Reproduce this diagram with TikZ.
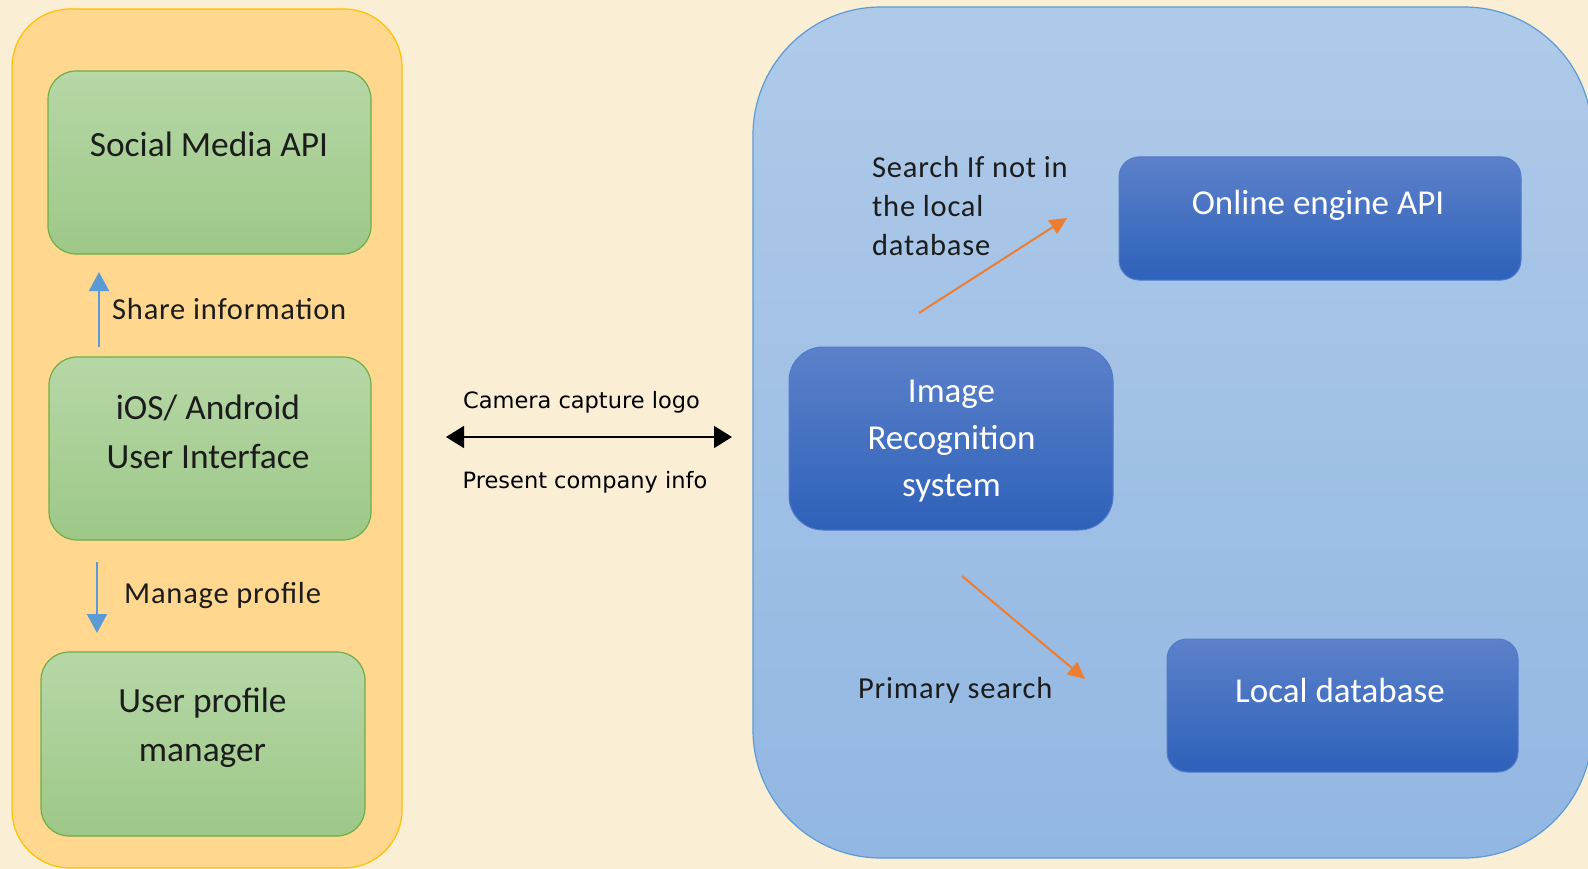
\documentclass[tikz,border=0pt]{standalone}
\usepackage{fontspec}
\setmainfont{Carlito}
\newfontfamily\labelfont[LetterSpace=2.6]{Carlito}
\newfontfamily\tahomalike{DejaVu Sans}
\usetikzlibrary{arrows.meta}

\definecolor{bgcream}{RGB}{250,238,212}
\definecolor{orangefill}{RGB}{255,215,142}
\definecolor{orangeline}{RGB}{255,192,0}
\definecolor{greentop}{RGB}{182,215,167}
\definecolor{greenbot}{RGB}{157,200,135}
\definecolor{greenline}{RGB}{112,173,71}
\definecolor{bluecontop}{RGB}{175,202,233}
\definecolor{blueconbot}{RGB}{146,183,226}
\definecolor{blueconline}{RGB}{91,155,213}
\definecolor{boxtop}{RGB}{92,129,202}
\definecolor{boxbot}{RGB}{46,97,185}
\definecolor{boxline}{RGB}{80,122,205}
\definecolor{arrowblue}{RGB}{91,155,213}
\definecolor{arroworange}{RGB}{237,125,49}
\definecolor{inkdark}{RGB}{28,28,28}

\tikzset{
  container/.style={draw, line width=1.2pt, inner sep=0pt},
  greenbox/.style={draw=greenline, line width=1.2pt, top color=greentop, bottom color=greenbot,
    rounded corners=28pt, inner sep=0pt},
  bluebox/.style={draw=boxline, line width=1pt, top color=boxtop, bottom color=boxbot, inner sep=0pt},
  boxtext/.style={font=\fontsize{35.4}{49}\selectfont, text=inkdark, inner sep=0pt},
  whitetext/.style={font=\fontsize{35}{47}\selectfont, text=white, inner sep=0pt},
  labeltext/.style={font=\labelfont\fontsize{30.5}{39}\selectfont, text=inkdark, inner sep=0pt},
  midlabel/.style={font=\tahomalike\fontsize{22.5}{27}\selectfont, text=black, inner sep=0pt},
  bluearrow/.style={draw=arrowblue, line width=2pt, -{Triangle[length=19pt,width=20pt]}},
  orangearrow/.style={draw=arroworange, line width=2pt, -{Triangle[length=17pt,width=16pt]}},
  blackarrow/.style={draw=black, line width=1.7pt, {Triangle[length=18pt,width=22pt]}-{Triangle[length=18pt,width=22pt]}}
}

\begin{document}
\begin{tikzpicture}[x=1pt,y=-1pt]
\useasboundingbox (0,0) rectangle (1588,869);
\clip (0,0) rectangle (1588,869);
\fill[bgcream] (0,0) rectangle (1588,869);

% containers
\node[container, draw=orangeline, fill=orangefill, rounded corners=58pt,
      minimum width=390pt, minimum height=859pt] (left) at (207,438.5) {};
\node[container, draw=blueconline, top color=bluecontop, bottom color=blueconbot, rounded corners=128pt,
      minimum width=839pt, minimum height=851pt] (right) at (1172.5,432.5) {};

% green boxes
\node[greenbox, minimum width=323pt, minimum height=183pt] (sm) at (209.5,162.5) {};
\node[greenbox, minimum width=322pt, minimum height=183pt] (ios) at (210,448.5) {};
\node[greenbox, minimum width=324pt, minimum height=184pt] (upm) at (203,744) {};

\node[boxtext, anchor=base] (smt) at (209,157) {Social Media API};
\node[boxtext, align=center, anchor=north] (iost) at (208,395) {iOS/ Android\\User Interface};
\node[boxtext, align=center, anchor=north] (upmt) at (202.5,688) {User profile\\manager};

% blue boxes
\node[bluebox, rounded corners=34pt, minimum width=324pt, minimum height=183pt] (img) at (951,438.5) {};
\node[bluebox, rounded corners=20pt, minimum width=402pt, minimum height=123pt] (online) at (1320,218.5) {};
\node[bluebox, rounded corners=20pt, minimum width=351pt, minimum height=133pt] (localdb) at (1342.5,705.5) {};

\node[whitetext, align=center, anchor=north] (imgt) at (951.5,380) {Image\\Recognition\\system};
\node[whitetext, anchor=base] (onlinet) at (1318,215) {Online engine API};
\node[whitetext, anchor=base] (localdbt) at (1340,702) {Local database};

% labels
\node[labeltext, anchor=base west] (sharel) at (112,319) {Share information};
\node[labeltext, anchor=base west] (managel) at (124,603) {Manage profile};
\node[labeltext, align=left, anchor=north west] (searchl) at (872,156) {Search If not in\\the local\\database};
\node[labeltext, anchor=base west] (primaryl) at (858,698) {Primary search};
\node[midlabel, anchor=base] (cameral) at (581.5,408) {Camera capture logo};
\node[midlabel, anchor=base] (presentl) at (585,488) {Present company info};

% arrow end points
\coordinate (shareS) at (99,347);
\coordinate (shareE) at (99,272);
\coordinate (manageS) at (97,562);
\coordinate (manageE) at (97,633);
\coordinate (camL) at (446,437);
\coordinate (camR) at (732,437);
\coordinate (upS) at (919,313);
\coordinate (upE) at (1067,218);
\coordinate (dnS) at (962,576);
\coordinate (dnE) at (1085,679);

\draw[bluearrow] (shareS) -- (shareE);
\draw[bluearrow] (manageS) -- (manageE);
\draw[blackarrow] (camL) -- (camR);
\draw[orangearrow] (upS) -- (upE);
\draw[orangearrow] (dnS) -- (dnE);
\end{tikzpicture}
\end{document}
